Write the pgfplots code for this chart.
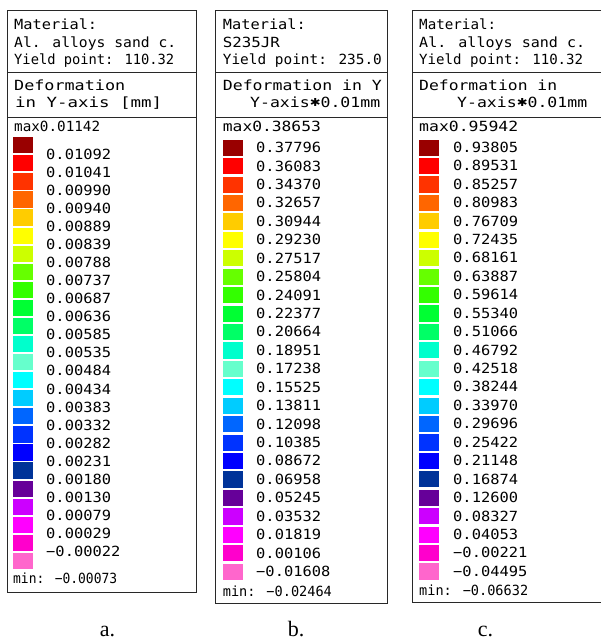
\documentclass[border=0pt]{standalone}
\usepackage{pgfplots}
\pgfplotsset{compat=1.18}
\usepackage{pgfplotstable}
\usepackage{graphicx}
\usepackage{fontspec}
\setmainfont{Liberation Serif}
\newfontfamily\cad{DejaVu Sans Mono}
\newfontfamily\djs{DejaVu Sans}
\newcommand\cadf{\cad\fontsize{14}{16}\selectfont}
\newcommand\fw[2]{\resizebox{#1pt}{\height}{#2}}
\newcommand\cadast{{\djs\fontsize{11}{12}\selectfont\raisebox{0.5pt}{\char"2731}}}

\definecolor{k1}{RGB}{153,0,0}
\definecolor{k2}{RGB}{255,0,0}
\definecolor{k3}{RGB}{255,51,0}
\definecolor{k4}{RGB}{255,102,0}
\definecolor{k5}{RGB}{255,204,0}
\definecolor{k6}{RGB}{255,255,0}
\definecolor{k7}{RGB}{204,255,0}
\definecolor{k8}{RGB}{102,255,0}
\definecolor{k9}{RGB}{51,255,0}
\definecolor{k10}{RGB}{0,255,51}
\definecolor{k11}{RGB}{0,255,102}
\definecolor{k12}{RGB}{0,255,204}
\definecolor{k13}{RGB}{102,255,204}
\definecolor{k14}{RGB}{0,255,255}
\definecolor{k15}{RGB}{0,204,255}
\definecolor{k16}{RGB}{0,102,255}
\definecolor{k17}{RGB}{0,51,255}
\definecolor{k18}{RGB}{0,0,255}
\definecolor{k19}{RGB}{0,51,153}
\definecolor{k20}{RGB}{102,0,153}
\definecolor{k21}{RGB}{204,0,255}
\definecolor{k22}{RGB}{255,0,255}
\definecolor{k23}{RGB}{255,0,204}
\definecolor{k24}{RGB}{255,102,204}
\definecolor{frame}{RGB}{40,40,40}

% colour swatches (same 24 classes in every panel)
\pgfplotstableread{
pos cls
0 k1
1 k2
2 k3
3 k4
4 k5
5 k6
6 k7
7 k8
8 k9
9 k10
10 k11
11 k12
12 k13
13 k14
14 k15
15 k16
16 k17
17 k18
18 k19
19 k20
20 k21
21 k22
22 k23
23 k24
}\swatches

% panel a: values at the boundaries between swatches
\pgfplotstableread{
pos val
0.5 0.01092
1.5 0.01041
2.5 0.00990
3.5 0.00940
4.5 0.00889
5.5 0.00839
6.5 0.00788
7.5 0.00737
8.5 0.00687
9.5 0.00636
10.5 0.00585
11.5 0.00535
12.5 0.00484
13.5 0.00434
14.5 0.00383
15.5 0.00332
16.5 0.00282
17.5 0.00231
18.5 0.00180
19.5 0.00130
20.5 0.00079
21.5 0.00029
22.5 −0.00022
}\labA

% panel b
\pgfplotstableread{
pos val
0 0.37796
1 0.36083
2 0.34370
3 0.32657
4 0.30944
5 0.29230
6 0.27517
7 0.25804
8 0.24091
9 0.22377
10 0.20664
11 0.18951
12 0.17238
13 0.15525
14 0.13811
15 0.12098
16 0.10385
17 0.08672
18 0.06958
19 0.05245
20 0.03532
21 0.01819
22 0.00106
23 −0.01608
}\labB

% panel c
\pgfplotstableread{
pos val
0 0.93805
1 0.89531
2 0.85257
3 0.80983
4 0.76709
5 0.72435
6 0.68161
7 0.63887
8 0.59614
9 0.55340
10 0.51066
11 0.46792
12 0.42518
13 0.38244
14 0.33970
15 0.29696
16 0.25422
17 0.21148
18 0.16874
19 0.12600
20 0.08327
21 0.04053
22 −0.00221
23 −0.04495
}\labC

\begin{document}
\begin{tikzpicture}[
  hdr/.style={anchor=base west, inner sep=0pt, font=\cadf, text=black},
  captxt/.style={anchor=base, inner sep=0pt, font=\fontsize{22}{26}\selectfont},
  fr/.style={line width=0.95pt, frame},
]
\begin{axis}[
  width=601pt, height=641pt, scale only axis,
  xmin=0, xmax=601, ymin=0, ymax=641, y dir=reverse,
  hide axis, clip=false,
  swatch/.style={only marks, scatter, scatter src=explicit symbolic,
    mark=square*, mark size=7.6pt, mark options={xscale=1.25},
    scatter/classes={k1={k1},k2={k2},k3={k3},k4={k4},k5={k5},k6={k6},k7={k7},k8={k8},
      k9={k9},k10={k10},k11={k11},k12={k12},k13={k13},k14={k14},k15={k15},k16={k16},
      k17={k17},k18={k18},k19={k19},k20={k20},k21={k21},k22={k22},k23={k23},k24={k24}}},
  labs/.style={only marks, mark=none, point meta=explicit symbolic,
    nodes near coords,
    every node near coord/.append style={anchor=west, inner sep=0pt, font=\cadf, xscale=1.1, text=black}},
]
\path (axis cs:0,0) rectangle (axis cs:601,641);

% ---------- panel a ----------
\draw[fr] (axis cs:7,10) rectangle (axis cs:196,592);
\draw[fr] (axis cs:7,72) -- (axis cs:196,72);
\draw[fr] (axis cs:7,117.5) -- (axis cs:196,117.5);
\node[hdr] at (axis cs:14,29) {\fw{83}{Material:}};
\node[hdr] at (axis cs:14,47) {\fw{162}{Al. alloys sand c.}};
\node[hdr] at (axis cs:14,64) {\fw{160}{Yield point: 110.32}};
\node[hdr] at (axis cs:14,90) {\fw{111}{Deformation}};
\node[hdr] at (axis cs:15,107) {\fw{147}{in Y-axis [mm]}};
\node[hdr] at (axis cs:14,131) {\fw{86}{max0.01142}};
\node[hdr] at (axis cs:13,583) {\fw{104}{min: −0.00073}};
\addplot[swatch] table[x expr=23, y expr=145+18.07*\thisrow{pos}, meta=cls] \swatches;
\addplot[labs] table[x expr=46, y expr=145+18.07*\thisrow{pos}, meta=val] \labA;

% ---------- panel b ----------
\draw[fr] (axis cs:215,10) rectangle (axis cs:387,603);
\draw[fr] (axis cs:215,72) -- (axis cs:387,72);
\draw[fr] (axis cs:215,117.5) -- (axis cs:387,117.5);
\node[hdr] at (axis cs:222.7,29) {\fw{83}{Material:}};
\node[hdr] at (axis cs:222.7,47) {\fw{57}{S235JR}};
\node[hdr] at (axis cs:222.7,64) {\fw{159}{Yield point: 235.0}};
\node[hdr] at (axis cs:222.7,90) {\fw{159}{Deformation in Y}};
\node[hdr] at (axis cs:250,107) {\fw{130}{Y-axis\cadast0.01mm}};
\node[hdr] at (axis cs:222.7,131) {\fw{98}{max0.38653}};
\node[hdr] at (axis cs:222.7,596) {\fw{109}{min: −0.02464}};
\addplot[swatch] table[x expr=232.7, y expr=147.5+18.43*\thisrow{pos}, meta=cls] \swatches;
\addplot[labs] table[x expr=256, y expr=147.5+18.43*\thisrow{pos}, meta=val] \labB;

% ---------- panel c ----------
\draw[fr] (axis cs:601,10) -- (axis cs:412,10) -- (axis cs:412,602) -- (axis cs:601,602);
\draw[fr] (axis cs:412,72) -- (axis cs:601,72);
\draw[fr] (axis cs:412,117.5) -- (axis cs:601,117.5);
\node[hdr] at (axis cs:419,29) {\fw{77}{Material:}};
\node[hdr] at (axis cs:419,47) {\fw{166}{Al. alloys sand c.}};
\node[hdr] at (axis cs:419,64) {\fw{164}{Yield point: 110.32}};
\node[hdr] at (axis cs:419,90) {\fw{138}{Deformation in}};
\node[hdr] at (axis cs:457,107) {\fw{130}{Y-axis\cadast0.01mm}};
\node[hdr] at (axis cs:419,131) {\fw{99}{max0.95942}};
\node[hdr] at (axis cs:419,595) {\fw{109}{min: −0.06632}};
\addplot[swatch] table[x expr=429, y expr=147.3+18.43*\thisrow{pos}, meta=cls] \swatches;
\addplot[labs] table[x expr=453, y expr=147.3+18.43*\thisrow{pos}, meta=val] \labC;

% ---------- captions ----------
\node[captxt] at (axis cs:107.5,636) {a.};
\node[captxt] at (axis cs:296,636) {b.};
\node[captxt] at (axis cs:485.5,636) {c.};
\end{axis}
\end{tikzpicture}
\end{document}
